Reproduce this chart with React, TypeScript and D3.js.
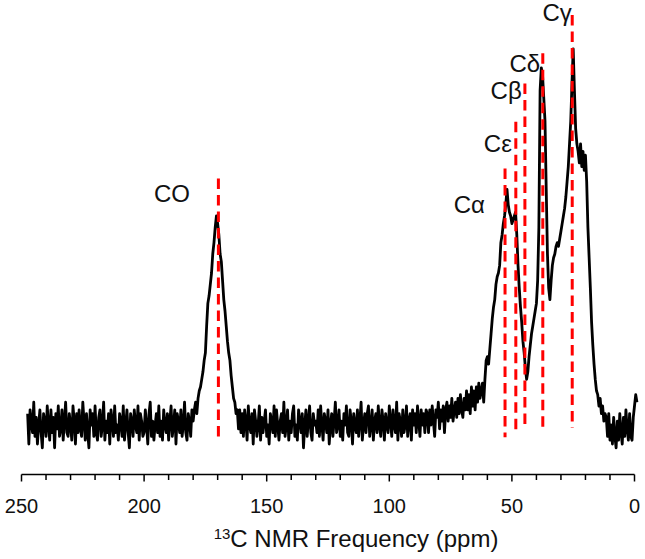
import React from 'react';
import * as d3 from 'd3';

// ---- spectrum data (intensity, arbitrary units; 0.5 ppm steps, decreasing ppm) ----
const PPM_STEP = 0.5;

const baselineHighStart = 247.5; // 247.5 -> 180.5 ppm
const baselineHigh = [
  3, -5, 4, 1, -2, 6, -3, 2, -5, 0, 4, -2, -6, 3, 1,
  -3, 5, 0, -4, 4, -2, 2, -6, 3, -1, 5, -3, -1, 4, -4, 1, 6, -2, -3, 3,
  0, -4, 5, 1, -5, 3, -2, 4, -1, -3, 6, 1, -4, 3, -2, -6, 4, 0, 3, -3,
  5, -2, -4, 2, 4, -3, 0, 6, -4, 1, -2, 3, -5, 4, 1, -3, 5, -2, 0, -4,
  3, 1, -3, 5, -4, 0, 4, -2, -6, 3, 1, -3, 4, 0, -2, 5, -4, 3, 1, -3,
  -2, 4, 0, -5, 3, 6, -3, 1, -4, 0, 3, -2, 5, -3, 1, -4, 4, 0, -2, 3,
  -4, 1, 5, -3, 0, 4, -5, 3, 1, -2, 4, -3, 0, 6, -2, -4, 3, 1, -3, 4,
];

const coPeakStart = 180; // 180 -> 160 ppm
const coPeak = [
  1, 4, 6, 3, 7, 9, 10, 12, 14, 17,
  19, 26, 32, 34, 37, 40, 45, 48, 52, 55,
  53, 50, 45, 43, 38, 33, 30, 26, 22, 19,
  17, 13, 10, 7, 6, 3, 4, -1, 4, -2,
  3,
];

const baselineMidStart = 159.5; // 159.5 -> 85 ppm
const baselineMid = [
  -3, 4, 1, -4, 5, 0, -2, 3, -5, 4, 1, -3, 0, 5, -4, 2, -2, 1, 4, -3,
  0, -5, 3, 1, -2, 5, -3, 4, 0, -4, 1, 3, -2, 6, -3, 0, 4, -4, 1, -2,
  3, 5, -3, 0, -4, 4, 1, -2, 3, -6, 0, 4, -3, 1, 5, -2, -4, 3, 0, 1,
  -2, 4, -3, 5, 0, -4, 3, 1, -2, 4, -5, 0, 3, -3, 1, 6, -2, 0, 4, -3,
  1, -4, 3, 0, 5, -2, -3, 4, 1, -5, 3, 0, -2, 4, -3, 1, 6, -4, 0, 3,
  -2, 3, 5, -3, 0, 4, -4, 1, 3, -2, 5, 0, -3, 4, 1, -4, 3, 0, -2, 5,
  1, -3, 4, 0, -2, 6, -4, 3, 1, -3, 4, -2, 0, 5, -3, 1, 3, -4, 4, 0,
  3, -2, 5, 1, -3, 4, 0, 3, -2, 4,
];

const aliphaticRiseStart = 84.5; // 84.5 -> 60.5 ppm
const aliphaticRise = [
  3, -2, 4, 0, 5, 1, -3, 4, 2, 6,
  -1, 4, 1, 5, -2, 4, 6, 1, 5, 2,
  7, 1, 4, 6, 2, 7, 3, 8, 4, 2,
  7, 4, 9, 4, 8, 3, 10, 5, 9, 4,
  10, 6, 11, 7, 9, 11, 6, 12, 17,
];

const aliphaticPeaksStart = 60; // 60 -> 12 ppm
const aliphaticPeaks = [
  18, 16, 20, 24, 28, 31, 33, 37, 39, 40,
  42, 48, 50, 53, 55, 58, 62, 58, 56, 55,
  53, 54, 55, 56, 50, 42, 36, 31, 27, 22,
  19, 15, 12, 14, 18, 21, 24, 26, 28, 30,
  32, 38, 52, 88, 94, 92, 86, 80, 62, 45,
  36, 33, 38, 42, 44, 45, 47, 48, 47, 49,
  51, 53, 55, 57, 60, 64, 68, 74, 80, 90,
  99, 88, 78, 74, 72, 69, 74, 68, 72, 67,
  71, 64, 52, 44, 36, 27, 21, 16, 12, 9,
  8, 5, 7, 3, 5, 1, 3,
];

const baselineLowStart = 11.5; // 11.5 -> -1 ppm
const baselineLow = [
  2, -3, 3, -4, 0, -5, 2, -3, -6, 1,
  -4, 3, -2, -5, 2, -3, 4, -1, -4, 3,
  -3, -4, 2, 5, 8, 6,
];

// ---- axis ----
const tickValues = d3.range(0, 251, 10);
const tickLabels = [250, 200, 150, 100, 50, 0];

// ---- peak assignments ----
const peakLabels = ['CO', 'Cα', 'Cε', 'Cβ', 'Cδ', 'Cγ'];
const peakPpm = [169.7, 52.8, 48.4, 44.7, 37.4, 25.4];
const markerTop = [64.9, 67.5, 79.8, 89.9, 97.8, 107.9];
const markerBottom = [-3.1, -3.2, -1.8, -0.8, -0.8, -0.8];
const labelEndPpm = [181.3, 61.0, 50.0, 46.0, 38.5, 25.6];
const labelBaseline = [58.8, 55.8, 71.8, 85.9, 92.9, 106.3];

export default function App() {
  const W = 645;
  const H = 559;
  const x = d3.scaleLinear().domain([250, 0]).range([21.5, 634.5]);
  const y = d3.scaleLinear().domain([0, 100]).range([425, 45]);
  const axisY = 474.5;

  const segments = [
    { start: baselineHighStart, values: baselineHigh },
    { start: coPeakStart, values: coPeak },
    { start: baselineMidStart, values: baselineMid },
    { start: aliphaticRiseStart, values: aliphaticRise },
    { start: aliphaticPeaksStart, values: aliphaticPeaks },
    { start: baselineLowStart, values: baselineLow },
  ];
  const points: [number, number][] = segments.flatMap((s) =>
    s.values.map((v, i) => [s.start - i * PPM_STEP, v] as [number, number])
  );
  points.sort((a, b) => b[0] - a[0]);

  const line = d3
    .line<[number, number]>()
    .x((d) => x(d[0]))
    .y((d) => y(d[1]));

  const font = "'Liberation Sans', Arial, Helvetica, sans-serif";

  return (
    <svg
      width={W}
      height={H}
      style={{ position: 'absolute', left: 0, top: 0, background: '#fff' }}
      fontFamily={font}
    >
      <rect x={0} y={0} width={W} height={H} fill="#fff" />
      <path d={line(points) || ''} fill="none" stroke="#000" strokeWidth={2.8} strokeLinejoin="round" />

      {peakLabels.map((lab, i) => (
        <g key={lab}>
          <line
            x1={x(peakPpm[i])}
            x2={x(peakPpm[i])}
            y1={y(markerTop[i])}
            y2={y(markerBottom[i])}
            stroke="#ff0000"
            strokeWidth={3}
            strokeDasharray="10.5,6"
          />
          <text
            x={x(labelEndPpm[i])}
            y={y(labelBaseline[i])}
            textAnchor="end"
            fontSize={24}
            fill="#111"
          >
            {lab}
          </text>
        </g>
      ))}

      <line x1={x(250)} x2={x(0)} y1={axisY} y2={axisY} stroke="#000" strokeWidth={1.5} />
      {tickValues.map((t) => (
        <line
          key={t}
          x1={x(t)}
          x2={x(t)}
          y1={axisY}
          y2={axisY + (t % 50 === 0 ? 7 : 5.5)}
          stroke="#000"
          strokeWidth={1.5}
        />
      ))}
      {tickLabels.map((t) => (
        <text key={t} x={x(t)} y={513} textAnchor="middle" fontSize={20} fill="#111">
          {t}
        </text>
      ))}
      <text x={356} y={547} textAnchor="middle" fontSize={24} fill="#111">
        <tspan fontSize={15} dy={-8}>13</tspan>
        <tspan dy={8}>C NMR Frequency (ppm)</tspan>
      </text>
    </svg>
  );
}
